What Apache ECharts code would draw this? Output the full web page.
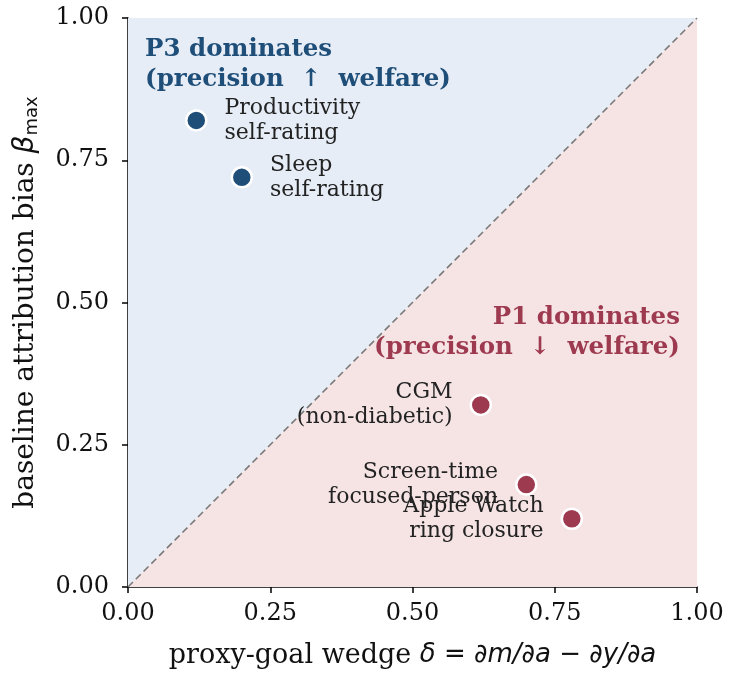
<!DOCTYPE html>
<html>
<head>
<meta charset="utf-8">
<script src="https://cdn.jsdelivr.net/npm/echarts@6/dist/echarts.min.js"></script>
<style>html,body{margin:0;padding:0;background:#fff;}#chart{width:735px;height:682px;}</style>
</head>
<body>
<div id="chart"></div>
<script>
const xTicks = [0, 0.25, 0.5, 0.75, 1.0];
const yTicks = [0, 0.25, 0.5, 0.75, 1.0];
const diagonal = [[0, 0], [1, 1]];
const p3Names = ['Productivity\nself-rating', 'Sleep\nself-rating'];
const p3X = [0.12, 0.20];
const p3Y = [0.82, 0.72];
const p1Names = ['CGM\n(non-diabetic)', 'Screen-time\nfocused-person', 'Apple Watch\nring closure'];
const p1X = [0.62, 0.70, 0.78];
const p1Y = [0.32, 0.18, 0.12];
const regionTitles = ['P3 dominates\n(precision  \u2191  welfare)', 'P1 dominates\n(precision  \u2193  welfare)'];
const regionTitlePos = [[0.03, 0.97], [0.97, 0.50]];

const BLUE = '#1f4e79', RED = '#9e3a50';
const SERIF = 'DejaVu Serif';
const chart = echarts.init(document.getElementById('chart'), null, {renderer: 'canvas'});

function pts(xs, ys, names) { return xs.map((x, i) => ({value: [x, ys[i]], name: names[i]})); }

chart.setOption({
  animation: false,
  backgroundColor: '#fff',
  grid: {left: 128, right: 38, top: 18, bottom: 95, containLabel: false},
  xAxis: {
    type: 'value', min: 0, max: 1, interval: 0.25,
    name: '{t|proxy-goal wedge }{m|\u03b4 = \u2202m/\u2202a \u2212 \u2202y/\u2202a}',
    nameLocation: 'middle', nameGap: 55,
    nameTextStyle: {rich: {
      t: {fontFamily: SERIF, fontSize: 27, color: '#111'},
      m: {fontFamily: 'DejaVu Sans', fontStyle: 'italic', fontSize: 26, color: '#111'}
    }},
    axisLine: {show: true, lineStyle: {color: '#000', width: 1.5}},
    axisTick: {show: true, inside: false, length: 6, lineStyle: {color: '#000', width: 1.5}},
    axisLabel: {fontFamily: SERIF, fontSize: 24, color: '#111', margin: 15,
      formatter: v => xTicks.includes(v) ? v.toFixed(2) : ''},
    splitLine: {show: false}
  },
  yAxis: {
    type: 'value', min: 0, max: 1, interval: 0.25,
    name: '{t|baseline attribution bias }{b|\u03b2}{s|max}',
    nameLocation: 'middle', nameGap: 87, nameRotate: 90,
    nameTextStyle: {rich: {
      t: {fontFamily: SERIF, fontSize: 28, color: '#111'},
      b: {fontFamily: 'DejaVu Sans', fontStyle: 'italic', fontSize: 28, color: '#111'},
      s: {fontFamily: 'DejaVu Sans', fontSize: 18, color: '#111', padding: [12, 0, 0, 0]}
    }},
    axisLine: {show: true, lineStyle: {color: '#000', width: 1.5}},
    axisTick: {show: true, inside: false, length: 6, lineStyle: {color: '#000', width: 1.5}},
    axisLabel: {fontFamily: SERIF, fontSize: 24, color: '#111', margin: 19,
      formatter: v => yTicks.includes(v) ? v.toFixed(2) : ''},
    splitLine: {show: false}
  },
  series: [
    {type: 'line', data: diagonal, symbol: 'none', silent: true, z: 1,
      lineStyle: {width: 0}, areaStyle: {color: '#e6edf6', opacity: 1, origin: 'end'}},
    {type: 'line', data: diagonal, symbol: 'none', silent: true, z: 1,
      lineStyle: {width: 0}, areaStyle: {color: '#f6e4e5', opacity: 1, origin: 'start'}},
    {type: 'line', data: diagonal, symbol: 'none', silent: true, z: 2,
      lineStyle: {color: '#7a7a7a', width: 1.6, type: [7, 4]}},
    {type: 'scatter', data: pts(p3X, p3Y, p3Names), symbolSize: 20, z: 5,
      itemStyle: {color: BLUE, borderColor: '#fff', borderWidth: 2.5, opacity: 1},
      label: {show: true, position: 'right', distance: 17, formatter: p => p.name,
        fontFamily: SERIF, fontSize: 22, lineHeight: 25, color: '#222', align: 'left'}},
    {type: 'scatter', data: pts(p1X, p1Y, p1Names), symbolSize: 20, z: 5,
      itemStyle: {color: RED, borderColor: '#fff', borderWidth: 2.5, opacity: 1},
      label: {show: true, position: 'left', distance: 17, formatter: p => p.name,
        fontFamily: SERIF, fontSize: 22, lineHeight: 25, color: '#222', align: 'right'}},
    {type: 'scatter', symbolSize: 0, silent: true, z: 6,
      itemStyle: {opacity: 1},
      data: [{value: regionTitlePos[0], name: regionTitles[0]}],
      label: {show: true, position: [0, 0], align: 'left', verticalAlign: 'top', formatter: p => p.name,
        fontFamily: SERIF, fontWeight: 'bold', fontSize: 24.5, lineHeight: 30, color: BLUE}},
    {type: 'scatter', symbolSize: 0, silent: true, z: 6,
      itemStyle: {opacity: 1},
      data: [{value: regionTitlePos[1], name: regionTitles[1]}],
      label: {show: true, position: [0, 0], align: 'right', verticalAlign: 'top', formatter: p => p.name,
        fontFamily: SERIF, fontWeight: 'bold', fontSize: 24.5, lineHeight: 30, color: RED}}
  ]
});
</script>
</body>
</html>
